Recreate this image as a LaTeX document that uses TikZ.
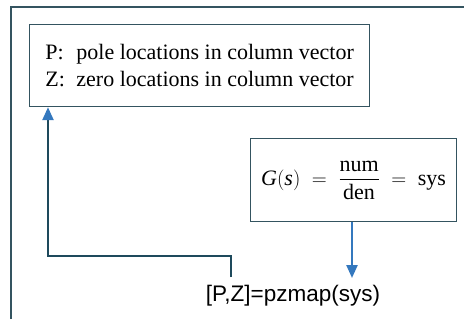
\documentclass[tikz,border=0pt]{standalone}
\usepackage{fontspec}
\setmainfont{Liberation Serif}
\setsansfont{Liberation Sans}
\usepackage{amsmath}
\usetikzlibrary{arrows.meta, positioning, calc}
\definecolor{framegray}{RGB}{52, 84, 96}
\definecolor{linkteal}{RGB}{30, 74, 92}
\definecolor{arrowblue}{RGB}{52, 120, 190}

\begin{document}
\begin{tikzpicture}[x=1pt, y=-1pt,
    box/.style={draw=framegray, line width=1.2pt, fill=white, inner sep=0pt},
    link/.style={draw=linkteal, line width=2.4pt, -{Triangle[length=13pt, width=11pt, color=arrowblue]}},
    flow/.style={draw=arrowblue, line width=2.4pt, -{Triangle[length=13pt, width=11pt]}}]
  \useasboundingbox (0,0) rectangle (464,322);
  \clip (0,0) rectangle (464,322);
  % outer frame
  \draw[framegray, line width=1.4pt] (11,319) -- (11,7) -- (470,7);

  \node[box, anchor=north west, minimum width=340pt, minimum height=82pt, align=left,
        font=\fontsize{22}{27}\selectfont] (info) at (29,24)
    {\makebox[31pt][l]{P:}pole locations in column vector\\
     \makebox[31pt][l]{Z:}zero locations in column vector};

  \node[box, anchor=north west, minimum width=206pt, minimum height=83pt,
        font=\fontsize{22}{26}\selectfont] (tf) at (250,138)
    {$\textit{G}(\textit{s}) \;=\; \dfrac{\text{num}}{\text{den}} \;=\; \text{sys}$};

  \node[font=\sffamily\fontsize{22.5}{26}\selectfont] (cmd) at (293,296) {[P,Z]=pzmap(sys)};

  \coordinate (start) at (231,277);
  \coordinate (bend) at (48,256);
  \draw[link] (start) |- (bend) -- (bend |- info.south);
  \draw[flow] (tf.south -| 352,0) -- (352,278);
\end{tikzpicture}
\end{document}
